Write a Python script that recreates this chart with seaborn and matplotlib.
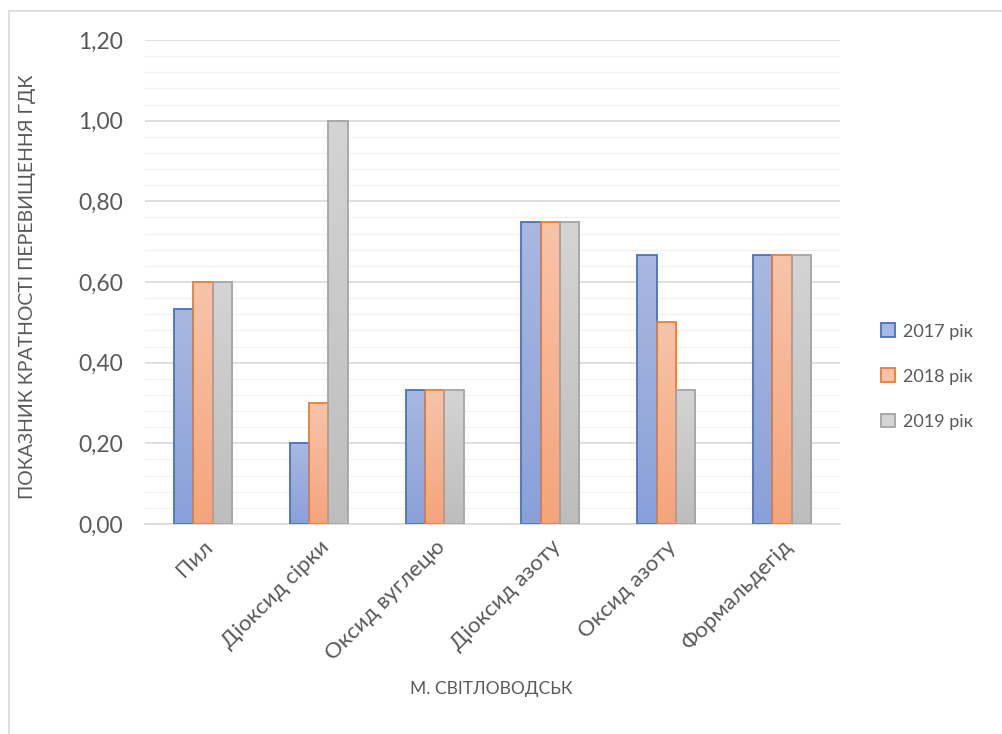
import numpy as np
import pandas as pd
import matplotlib
matplotlib.use("Agg")
import matplotlib.pyplot as plt
import seaborn as sns
from matplotlib.colors import LinearSegmentedColormap
from matplotlib.ticker import MultipleLocator, FuncFormatter
from matplotlib.patches import Rectangle

categories = ["Пил", "Діоксид сірки", "Оксид вуглецю", "Діоксид азоту", "Оксид азоту", "Формальдегід"]
years = ["2017 рік", "2018 рік", "2019 рік"]
v2017 = [0.533, 0.20, 0.333, 0.75, 0.667, 0.667]
v2018 = [0.60, 0.30, 0.333, 0.75, 0.50, 0.667]
v2019 = [0.60, 1.00, 0.333, 0.75, 0.333, 0.667]

edge_colors = ["#4472C4", "#ED7D31", "#A5A5A5"]
grad_top = ["#AAB8E0", "#F7C4AA", "#D4D4D4"]
grad_bottom = ["#8AA0D9", "#F4A47B", "#BDBDBD"]

df = pd.DataFrame({
    "category": categories * 3,
    "year": [years[0]] * 6 + [years[1]] * 6 + [years[2]] * 6,
    "value": v2017 + v2018 + v2019,
})

sns.set_theme(style="white")
plt.rcParams["font.family"] = ["Lato", "DejaVu Sans"]
text_color = "#595959"

fig = plt.figure(figsize=(10.03, 7.34), dpi=100)
ax = fig.add_axes([0.1446, 0.2861, 0.6929, 0.6594])

sns.barplot(data=df, x="category", y="value", hue="year", order=categories,
            hue_order=years, palette=grad_bottom, width=0.5, gap=0,
            saturation=1, legend=False, ax=ax, zorder=3)

# vertical gradient inside each bar, clipped to the bar shape
for i, container in enumerate(ax.containers):
    cmap = LinearSegmentedColormap.from_list(f"g{i}", [grad_bottom[i], grad_top[i]])
    for bar in container:
        x0, y0 = bar.get_x(), bar.get_y()
        w, h = bar.get_width(), bar.get_height()
        bar.set_edgecolor(edge_colors[i])
        bar.set_linewidth(1.3)
        bar.set_facecolor("none")
        grad = np.linspace(0, 1, 256).reshape(-1, 1)
        im = ax.imshow(grad, cmap=cmap, origin="lower", aspect="auto",
                       extent=(x0, x0 + w, y0, y0 + h), zorder=2.5)
        im.set_clip_path(bar)
ax.set_xlim(-0.5, len(categories) - 0.5)
ax.set_ylim(0, 1.2)

ax.yaxis.set_major_locator(MultipleLocator(0.2))
ax.yaxis.set_minor_locator(MultipleLocator(0.04))
ax.yaxis.set_major_formatter(FuncFormatter(lambda v, p: f"{v:.2f}".replace(".", ",")))
ax.grid(axis="y", which="major", color="#D9D9D9", linewidth=1.2, zorder=0)
ax.grid(axis="y", which="minor", color="#F2F2F2", linewidth=1.0, zorder=0)
ax.set_axisbelow(True)
for s in ["top", "right", "left"]:
    ax.spines[s].set_visible(False)
ax.spines["bottom"].set_color("#D9D9D9")
ax.spines["bottom"].set_linewidth(1.2)

ax.tick_params(axis="y", which="both", length=0, labelsize=16.5, labelcolor=text_color, pad=16)
ax.tick_params(axis="x", length=0, labelsize=16, labelcolor=text_color, pad=9)
ax.set_xticks(range(len(categories)))
ax.set_xticklabels(categories, rotation=45, ha="right", rotation_mode="anchor")

ax.set_xlabel("М. СВІТЛОВОДСЬК", fontsize=12.5, color=text_color)
ax.xaxis.set_label_coords(0.498, -0.325)
ax.set_ylabel("ПОКАЗНИК КРАТНОСТІ ПЕРЕВИЩЕННЯ ГДК", fontsize=14, color=text_color)
ax.yaxis.set_label_coords(-0.157, 0.49)

# legend
handles = [Rectangle((0, 0), 1, 1, facecolor=grad_top[i], edgecolor=edge_colors[i], linewidth=1.3)
           for i in range(3)]
leg = fig.legend(handles, years, loc="center left", bbox_to_anchor=(0.862, 0.487),
                 frameon=False, fontsize=13, labelspacing=1.6, handlelength=0.8,
                 handleheight=0.8, handletextpad=0.4)
for t in leg.get_texts():
    t.set_color(text_color)

# chart area border
fig.patches.append(Rectangle((9 / 1003, -0.1), 1.2, 1.1 - 11 / 734,
                             transform=fig.transFigure, fill=False,
                             edgecolor="#D9D9D9", linewidth=1.2))

fig.savefig("out.png", dpi=100)
